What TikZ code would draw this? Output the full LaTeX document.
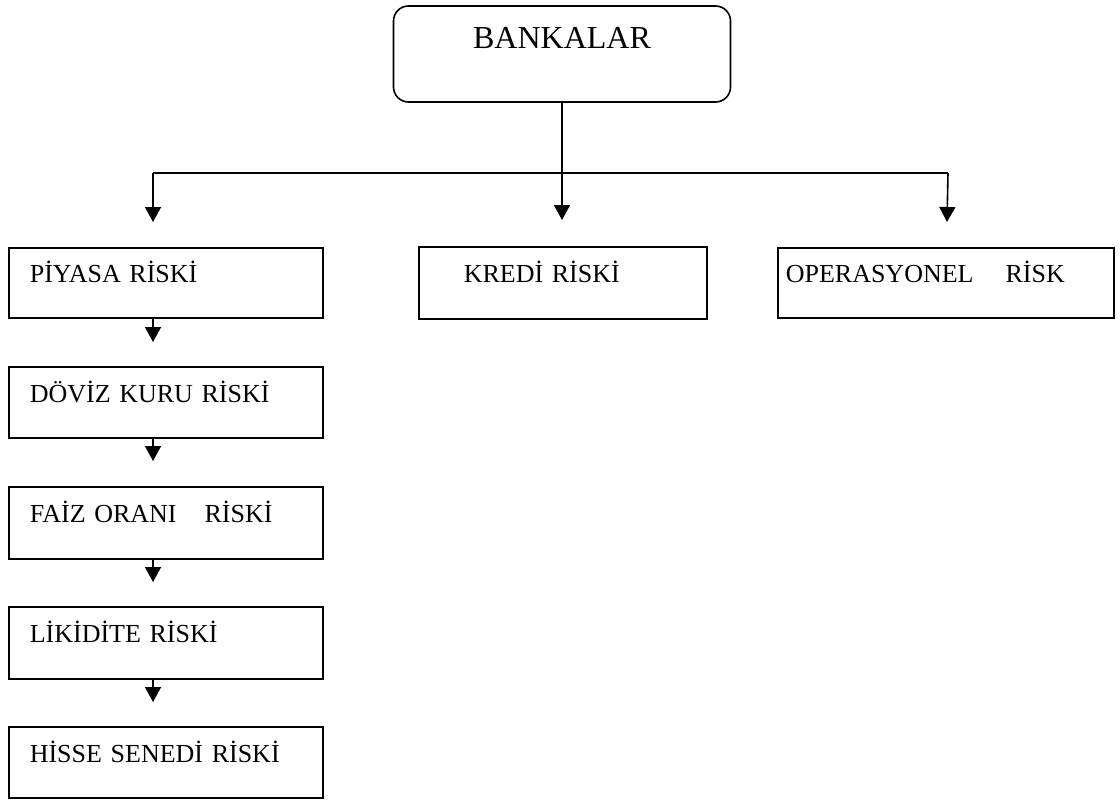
\documentclass[tikz,border=0pt]{standalone}
\usepackage{fontspec}
\setmainfont{Liberation Serif}
\usetikzlibrary{arrows.meta}
\begin{document}
\begin{tikzpicture}[x=1pt,y=-1pt,
  every node/.style={line width=1.6pt},
  rbox/.style={draw, rectangle, anchor=north west, inner ysep=0pt,
    text height=10pt, text depth=10pt, align=left,
    font=\fontsize{26}{31}\selectfont},
  topbox/.style={draw, rectangle, rounded corners=15pt, inner ysep=0pt,
    minimum width=337pt, minimum height=96pt,
    text height=10pt, text depth=20pt,
    font=\fontsize{32}{38}\selectfont},
  arr/.style={line width=1.6pt, -{Triangle[width=16pt,length=15pt]}},
  ln/.style={line width=1.6pt}]
\useasboundingbox (0,0) rectangle (1120,800);

\node[topbox] (bank) at (562,54) {BANKALAR};

\node[rbox, minimum width=314pt, minimum height=70pt, inner xsep=21pt, text width=272pt] (p1) at (8,247) {PİYASA RİSKİ};
\node[rbox, minimum width=314pt, minimum height=71pt, inner xsep=21pt, text width=272pt] (p2) at (8,366) {DÖVİZ KURU RİSKİ};
\node[rbox, minimum width=314pt, minimum height=72pt, inner xsep=21pt, text width=272pt] (p3) at (8,486) {FAİZ ORANI\hspace*{28pt}RİSKİ};
\node[rbox, minimum width=314pt, minimum height=72pt, inner xsep=21pt, text width=272pt] (p4) at (8,606) {LİKİDİTE RİSKİ};
\node[rbox, minimum width=314pt, minimum height=71pt, inner xsep=21pt, text width=272pt] (p5) at (8,726) {HİSSE SENEDİ RİSKİ};

\node[rbox, minimum width=288pt, minimum height=72pt, inner xsep=45pt, text width=198pt] (kredi) at (418,246) {KREDİ RİSKİ};
\node[rbox, minimum width=336pt, minimum height=70pt, inner xsep=8pt, text width=320pt] (oper) at (777,247) {OPERASYONEL\hspace*{32pt}RİSK};

\coordinate (jl) at (153,173);
\coordinate (jr) at (948,173);
\coordinate (tA) at (153,222);
\coordinate (tB) at (562,220);
\coordinate (tC) at (947,222);

\draw[ln] (jl) -- (jr);
\draw[arr] (bank.south) -- (tB);
\draw[arr] (jl) -- (tA);
\draw[arr] (jr) -- (tC);

\coordinate (a1) at (153,342);
\coordinate (a2) at (153,461);
\coordinate (a3) at (153,582);
\coordinate (a4) at (153,702);
\draw[arr] (p1.south -| jl) -- (a1);
\draw[arr] (p2.south -| jl) -- (a2);
\draw[arr] (p3.south -| jl) -- (a3);
\draw[arr] (p4.south -| jl) -- (a4);
\end{tikzpicture}
\end{document}
